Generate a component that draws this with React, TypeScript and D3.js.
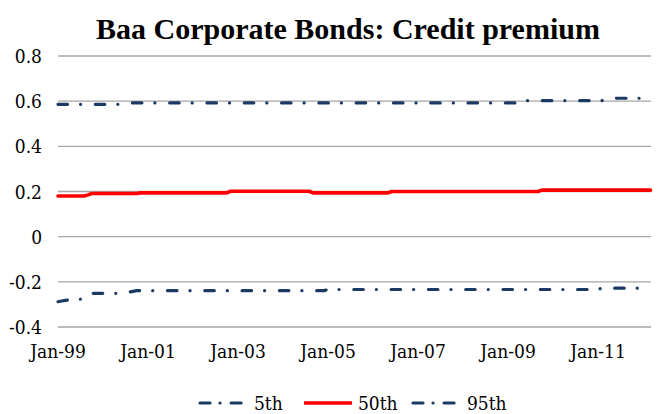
import React from "react";
import * as d3 from "d3";

// Monthly observations, Jan-99 .. Mar-12 (one row per year)
const p95: number[] = [
  0.586, 0.586, 0.586, 0.586, 0.586, 0.586, 0.586, 0.586, 0.586, 0.586, 0.586, 0.586,
  0.586, 0.586, 0.586, 0.586, 0.586, 0.592, 0.592, 0.592, 0.592, 0.592, 0.592, 0.592,
  0.592, 0.592, 0.592, 0.592, 0.592, 0.592, 0.592, 0.592, 0.592, 0.592, 0.592, 0.592,
  0.592, 0.592, 0.592, 0.592, 0.592, 0.592, 0.592, 0.592, 0.592, 0.592, 0.592, 0.592,
  0.592, 0.592, 0.592, 0.592, 0.592, 0.592, 0.592, 0.592, 0.592, 0.592, 0.592, 0.592,
  0.592, 0.592, 0.592, 0.592, 0.592, 0.592, 0.592, 0.592, 0.592, 0.592, 0.592, 0.592,
  0.592, 0.592, 0.592, 0.592, 0.592, 0.592, 0.592, 0.592, 0.592, 0.592, 0.592, 0.592,
  0.592, 0.592, 0.592, 0.592, 0.592, 0.592, 0.592, 0.592, 0.592, 0.592, 0.592, 0.592,
  0.592, 0.592, 0.592, 0.592, 0.592, 0.592, 0.592, 0.592, 0.592, 0.592, 0.592, 0.592,
  0.592, 0.592, 0.592, 0.592, 0.592, 0.592, 0.592, 0.592, 0.592, 0.592, 0.592, 0.592,
  0.592, 0.592, 0.592, 0.596, 0.602, 0.602, 0.602, 0.602, 0.602, 0.602, 0.602, 0.602,
  0.602, 0.602, 0.602, 0.602, 0.602, 0.602, 0.602, 0.602, 0.602, 0.602, 0.602, 0.602,
  0.602, 0.602, 0.607, 0.607, 0.607, 0.613, 0.613, 0.613, 0.613, 0.613, 0.613, 0.613,
  0.613, 0.613, 0.613,
];

const p50: number[] = [
  0.18, 0.18, 0.18, 0.18, 0.18, 0.18, 0.18, 0.18, 0.185, 0.191, 0.191, 0.191,
  0.191, 0.191, 0.191, 0.191, 0.191, 0.191, 0.191, 0.191, 0.191, 0.191, 0.194, 0.194,
  0.194, 0.194, 0.194, 0.194, 0.194, 0.194, 0.194, 0.194, 0.194, 0.194, 0.194, 0.194,
  0.194, 0.194, 0.194, 0.194, 0.194, 0.194, 0.194, 0.194, 0.194, 0.194, 0.201, 0.201,
  0.201, 0.201, 0.201, 0.201, 0.201, 0.201, 0.201, 0.201, 0.201, 0.201, 0.201, 0.201,
  0.201, 0.201, 0.201, 0.201, 0.201, 0.201, 0.201, 0.201, 0.194, 0.194, 0.194, 0.194,
  0.194, 0.194, 0.194, 0.194, 0.194, 0.194, 0.194, 0.194, 0.194, 0.194, 0.194, 0.194,
  0.194, 0.194, 0.194, 0.194, 0.194, 0.2, 0.2, 0.2, 0.2, 0.2, 0.2, 0.2,
  0.2, 0.2, 0.2, 0.2, 0.2, 0.2, 0.2, 0.2, 0.2, 0.2, 0.2, 0.2,
  0.2, 0.2, 0.2, 0.2, 0.2, 0.2, 0.2, 0.2, 0.2, 0.2, 0.2, 0.2,
  0.2, 0.2, 0.2, 0.2, 0.2, 0.2, 0.2, 0.2, 0.2, 0.206, 0.206, 0.206,
  0.206, 0.206, 0.206, 0.206, 0.206, 0.206, 0.206, 0.206, 0.206, 0.206, 0.206, 0.206,
  0.206, 0.206, 0.206, 0.206, 0.206, 0.206, 0.206, 0.206, 0.206, 0.206, 0.206, 0.206,
  0.206, 0.206, 0.206,
];

const p5: number[] = [
  -0.288, -0.285, -0.282, -0.28, -0.279, -0.278, -0.277, -0.265, -0.252, -0.251, -0.251, -0.251,
  -0.251, -0.251, -0.251, -0.251, -0.251, -0.245, -0.245, -0.245, -0.242, -0.239, -0.239, -0.239,
  -0.239, -0.239, -0.239, -0.239, -0.239, -0.239, -0.239, -0.239, -0.239, -0.239, -0.239, -0.239,
  -0.239, -0.239, -0.239, -0.239, -0.239, -0.239, -0.239, -0.239, -0.239, -0.239, -0.239, -0.239,
  -0.239, -0.239, -0.239, -0.239, -0.239, -0.239, -0.239, -0.239, -0.239, -0.239, -0.239, -0.239,
  -0.239, -0.239, -0.239, -0.239, -0.239, -0.239, -0.239, -0.239, -0.239, -0.239, -0.239, -0.239,
  -0.234, -0.234, -0.234, -0.234, -0.234, -0.234, -0.234, -0.234, -0.234, -0.234, -0.234, -0.234,
  -0.234, -0.234, -0.234, -0.234, -0.234, -0.234, -0.234, -0.234, -0.234, -0.234, -0.234, -0.234,
  -0.234, -0.234, -0.234, -0.234, -0.234, -0.234, -0.234, -0.234, -0.234, -0.234, -0.234, -0.234,
  -0.234, -0.234, -0.234, -0.234, -0.234, -0.234, -0.234, -0.234, -0.234, -0.234, -0.234, -0.234,
  -0.234, -0.234, -0.234, -0.234, -0.234, -0.234, -0.234, -0.234, -0.234, -0.234, -0.234, -0.234,
  -0.234, -0.234, -0.234, -0.234, -0.234, -0.234, -0.234, -0.234, -0.234, -0.234, -0.234, -0.234,
  -0.234, -0.228, -0.228, -0.228, -0.228, -0.228, -0.228, -0.228, -0.228, -0.228, -0.228, -0.228,
  -0.233, -0.233, -0.233,
];

const yTicks: number[] = [-0.4, -0.2, 0, 0.2, 0.4, 0.6, 0.8];
const xTickLabels: string[] = ["Jan-99", "Jan-01", "Jan-03", "Jan-05", "Jan-07", "Jan-09", "Jan-11"];
const xTickIndex: number[] = [0, 24, 48, 72, 96, 120, 144];
const seriesNames: string[] = ["5th", "50th", "95th"];

const NAVY = "#1b3a63";
const RED = "#ff0000";
const DASH = "9.5 13 0.1 14.7";
const FONT = "'DejaVu Serif Condensed', 'DejaVu Serif', serif";

export default function App() {
  const W = 663;
  const H = 414;
  const left = 58;
  const right = 651;
  const top = 56;
  const bottom = 327;

  const x = d3.scaleLinear().domain([0, p50.length - 1]).range([left, 650.5]);
  const y = d3.scaleLinear().domain([-0.4, 0.8]).range([bottom, top]);
  const line = d3
    .line<number>()
    .x((_, i) => x(i))
    .y((d) => y(d));

  const series = [
    { name: seriesNames[0], data: p5, color: NAVY, dash: DASH, width: 3.2 },
    { name: seriesNames[1], data: p50, color: RED, dash: undefined, width: 3.6 },
    { name: seriesNames[2], data: p95, color: NAVY, dash: DASH, width: 3.2 },
  ];

  const legendItems = [
    { x: 198, ...series[0] },
    { x: 302, ...series[1] },
    { x: 411, ...series[2] },
  ];

  return (
    <svg
      width={W}
      height={H}
      style={{ position: "fixed", left: 0, top: 0, background: "#fff" }}
      fontFamily={FONT}
    >
      <rect x={0} y={0} width={W} height={H} fill="#fff" />
      <text
        x={348}
        y={39}
        textAnchor="middle"
        fontFamily="'Liberation Serif', serif"
        fontWeight="bold"
        fontSize={30}
        fill="#000"
      >
        Baa Corporate Bonds: Credit premium
      </text>

      {yTicks.map((t) => (
        <g key={t}>
          <line x1={left} x2={right} y1={y(t)} y2={y(t)} stroke="#a6a6a6" strokeWidth={1.3} />
          <text x={42} y={y(t) + 7} textAnchor="end" fontSize={19} fill="#000">
            {String(t)}
          </text>
        </g>
      ))}

      {xTickIndex.map((idx, k) => (
        <text key={idx} x={x(idx)} y={358} textAnchor="middle" fontSize={19} fill="#000">
          {xTickLabels[k]}
        </text>
      ))}

      {series.map((s) => (
        <path
          key={s.name}
          d={line(s.data) || ""}
          fill="none"
          stroke={s.color}
          strokeWidth={s.width}
          strokeDasharray={s.dash}
          strokeLinecap="round"
          strokeLinejoin="round"
        />
      ))}

      {legendItems.map((s) => (
        <g key={s.name}>
          <line
            x1={s.x + 2}
            x2={s.x + 50}
            y1={403}
            y2={403}
            stroke={s.color}
            strokeWidth={s.width}
            strokeDasharray={s.dash ? "10 10 0.1 11" : undefined}
            strokeLinecap={s.dash ? "round" : "butt"}
          />
          <text x={s.x + 56} y={410} fontSize={19} fill="#000">
            {s.name}
          </text>
        </g>
      ))}
    </svg>
  );
}
